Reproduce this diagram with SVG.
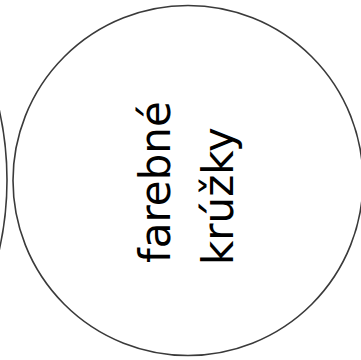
<svg xmlns="http://www.w3.org/2000/svg" width="361" height="360" viewBox="0 0 361 360">
<style>
.c{fill:none;stroke:#3a3a3a;stroke-width:1.6}
.t{font-family:"DejaVu Sans","Noto Sans",sans-serif;font-size:42px;fill:#000}
</style>
<rect width="361" height="360" fill="#fff"/>
<g id="left-circle"><circle class="c" cx="-313" cy="180" r="320"/></g>
<g id="farebne-kruzky">
<circle class="c" cx="188" cy="180.5" r="175"/>
<text class="t" transform="translate(170,263) rotate(-90)">farebné</text>
<text class="t" transform="translate(233,265) rotate(-90)">krúžky</text>
</g>
<g id="connectors"/>
</svg>
